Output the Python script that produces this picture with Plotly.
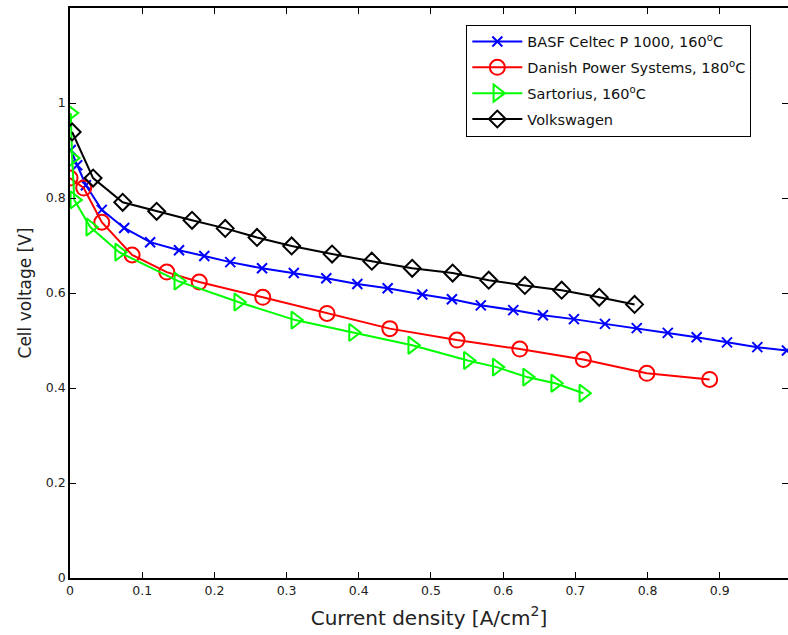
import plotly.graph_objects as go

# Polarisation curves: cell voltage vs. current density for four HT-PEM MEAs
basf_j = [0.001, 0.010, 0.022, 0.044, 0.075, 0.111, 0.151, 0.186, 0.222, 0.266,
          0.310, 0.355, 0.398, 0.440, 0.488, 0.529, 0.569, 0.614, 0.655, 0.698,
          0.741, 0.785, 0.828, 0.868, 0.910, 0.952, 0.993]
basf_v = [0.901, 0.869, 0.827, 0.775, 0.737, 0.707, 0.690, 0.678, 0.665, 0.652,
          0.642, 0.631, 0.619, 0.610, 0.597, 0.587, 0.574, 0.564, 0.553, 0.545,
          0.535, 0.526, 0.516, 0.507, 0.496, 0.486, 0.479]

dps_j = [0.000, 0.019, 0.044, 0.086, 0.134, 0.179, 0.267, 0.356, 0.443, 0.536,
         0.623, 0.711, 0.799, 0.886]
dps_v = [0.842, 0.821, 0.749, 0.680, 0.644, 0.623, 0.591, 0.557, 0.525, 0.501,
         0.482, 0.460, 0.431, 0.418]

sart_j = [0.001, 0.003, 0.006, 0.028, 0.068, 0.150, 0.233, 0.312, 0.392, 0.474,
          0.551, 0.591, 0.633, 0.672, 0.711]
sart_v = [0.979, 0.884, 0.796, 0.739, 0.686, 0.625, 0.581, 0.543, 0.517, 0.490,
          0.458, 0.444, 0.423, 0.410, 0.389]

vw_j = [0.003, 0.032, 0.073, 0.120, 0.169, 0.215, 0.259, 0.307, 0.363, 0.418,
        0.474, 0.530, 0.580, 0.630, 0.681, 0.733, 0.782]
vw_v = [0.939, 0.842, 0.791, 0.772, 0.753, 0.736, 0.717, 0.699, 0.682, 0.667,
        0.652, 0.642, 0.627, 0.616, 0.606, 0.591, 0.576]

x_ticks = [0, 0.1, 0.2, 0.3, 0.4, 0.5, 0.6, 0.7, 0.8, 0.9]
x_labels = ["0", "0.1", "0.2", "0.3", "0.4", "0.5", "0.6", "0.7", "0.8", "0.9"]
y_ticks = [0, 0.2, 0.4, 0.6, 0.8, 1.0]
y_labels = ["0", "0.2", "0.4", "0.6", "0.8", "1"]

series = [
    ("BASF Celtec P 1000, 160<sup>o</sup>C", basf_j, basf_v, "#0000FF", "x-thin-open", 10),
    ("Danish Power Systems, 180<sup>o</sup>C", dps_j, dps_v, "#FF0000", "circle-open", 15),
    ("Sartorius, 160<sup>o</sup>C", sart_j, sart_v, "#00FF00", "triangle-right-open", 15),
    ("Volkswagen", vw_j, vw_v, "#000000", "diamond-open", 13),
]

FONT = "DejaVu Sans, Arial, sans-serif"

fig = go.Figure()
for i, (name, xs, ys, color, symbol, size) in enumerate(series):
    fig.add_trace(go.Scatter(
        x=xs, y=ys, name=name, mode="lines+markers",
        legendgroup=f"g{i}",
        line=dict(color=color, width=2),
        marker=dict(symbol=symbol, size=size, color=color,
                    line=dict(color=color, width=2)),
    ))

# transparent point that keeps the right-hand tick axis drawn
fig.add_trace(go.Scatter(x=[0.5], y=[0.5], yaxis="y2", mode="markers",
                         marker=dict(opacity=0), showlegend=False, hoverinfo="skip"))

axis_font = dict(family=FONT, size=12.5, color="#222222")

fig.update_layout(
    width=788, height=635,
    margin=dict(l=70, r=0, t=8, b=57),
    paper_bgcolor="white", plot_bgcolor="white",
    showlegend=True,
    legend=dict(
        x=0.552, y=0.971, xanchor="left", yanchor="top",
        bordercolor="#000000", borderwidth=1, bgcolor="white",
        font=dict(family=FONT, size=14.5, color="#111111"),
        tracegroupgap=4, itemwidth=50,
    ),
    xaxis=dict(
        range=[0, 0.9945], tickvals=x_ticks, ticktext=x_labels,
        ticks="inside", ticklen=6, tickwidth=1, tickcolor="#000000",
        showline=True, linecolor="#000000", linewidth=1.5, mirror="ticks",
        showgrid=False, zeroline=False, tickfont=axis_font,
        title=dict(text="Current density [A/cm<sup>2</sup>]",
                   font=dict(family=FONT, size=20, color="#222222"), standoff=14),
    ),
    yaxis=dict(
        range=[0, 1.2], tickvals=y_ticks, ticktext=y_labels,
        ticks="inside", ticklen=6, tickwidth=1, tickcolor="#000000",
        showline=True, linecolor="#000000", linewidth=1.5,
        showgrid=False, zeroline=False, tickfont=axis_font,
        title=dict(text="Cell voltage [V]",
                   font=dict(family=FONT, size=17, color="#222222"), standoff=10),
    ),
    yaxis2=dict(
        range=[0, 1.2], tickvals=y_ticks, overlaying="y", side="right",
        ticks="inside", ticklen=6, tickwidth=1, tickcolor="#000000",
        showticklabels=False, showline=False, showgrid=False, zeroline=False,
    ),
)

fig.write_html("out.html")
